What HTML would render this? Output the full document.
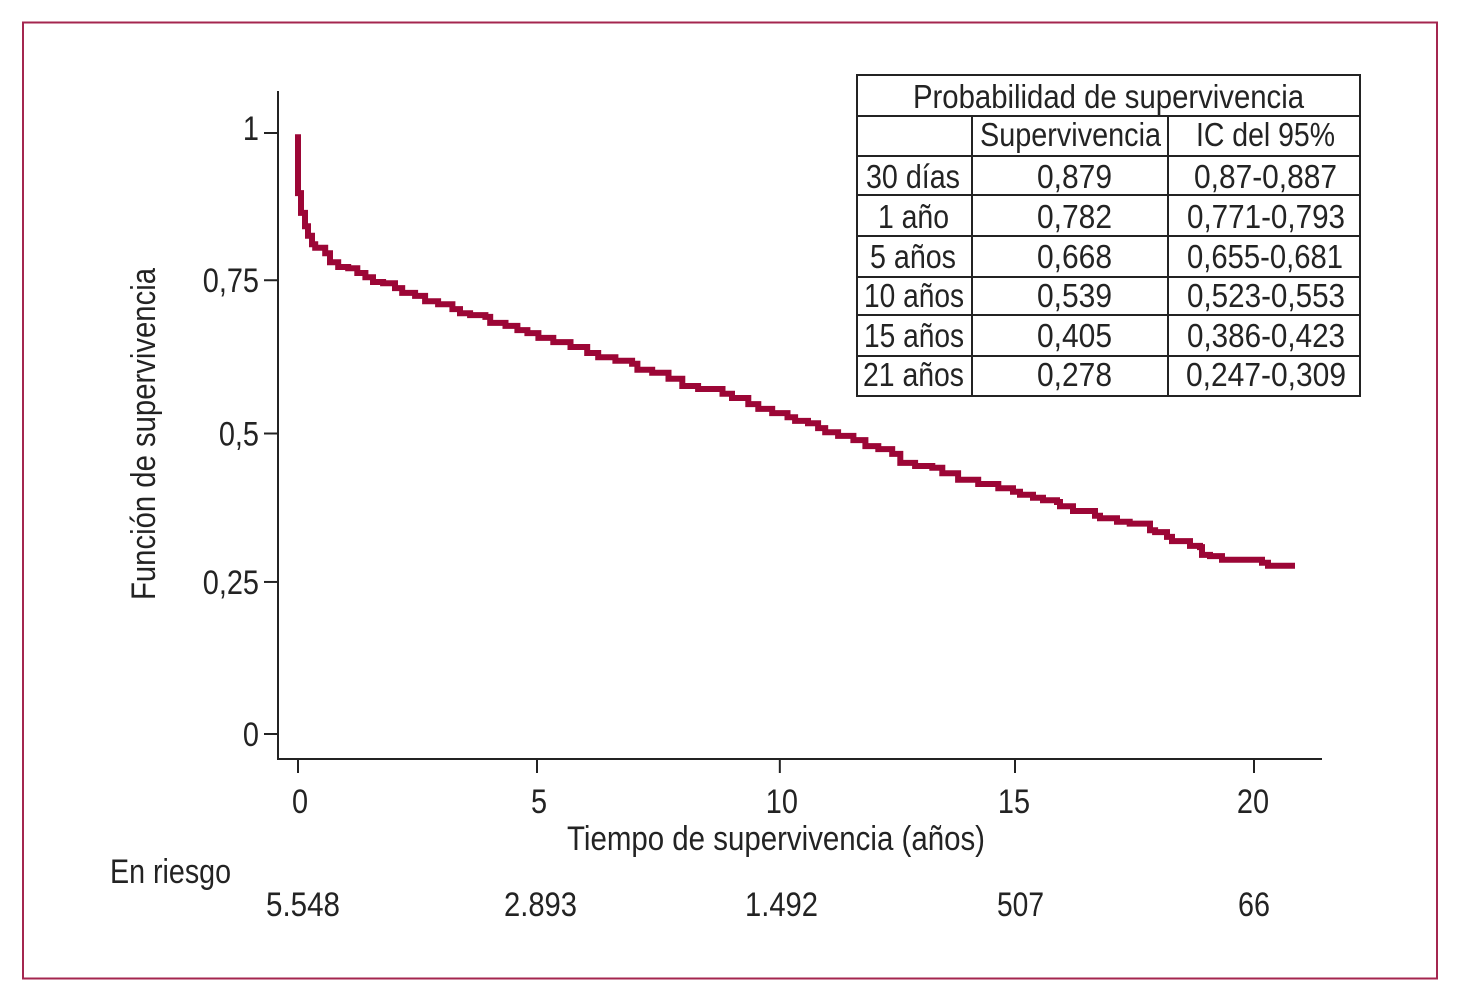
<!DOCTYPE html>
<html lang="es">
<head>
<meta charset="utf-8">
<title>Función de supervivencia</title>
<style>
html,body{margin:0;padding:0;background:#fff;}
svg{display:block;}
text{font-family:"Liberation Sans Narrow","Liberation Sans",sans-serif;fill:#232323;font-size:34px;}
.t text{font-size:33px;}
</style>
</head>
<body>
<svg id="chart" xmlns="http://www.w3.org/2000/svg" width="1462" height="1008" viewBox="0 0 1462 1008">
  <rect x="23" y="22.5" width="1414" height="956" fill="none" stroke="#a4264f" stroke-width="2"/>
  <g id="axes"></g>
  <path id="curve" fill="none" stroke="#9c0636" stroke-width="6" stroke-linejoin="miter"/>

  <text transform="translate(155,600) rotate(-90)" textLength="332" lengthAdjust="spacingAndGlyphs">Función de supervivencia</text>
  <text x="567" y="850" textLength="418" lengthAdjust="spacingAndGlyphs">Tiempo de supervivencia (años)</text>

  <text x="110" y="883" textLength="121" lengthAdjust="spacingAndGlyphs">En riesgo</text>
  <text x="266" y="916" textLength="74" lengthAdjust="spacingAndGlyphs">5.548</text>
  <text x="504" y="916" textLength="73" lengthAdjust="spacingAndGlyphs">2.893</text>
  <text x="745" y="916" textLength="73" lengthAdjust="spacingAndGlyphs">1.492</text>
  <text x="997" y="916" textLength="47" lengthAdjust="spacingAndGlyphs">507</text>
  <text x="1238" y="916" textLength="32" lengthAdjust="spacingAndGlyphs">66</text>

  <g class="t">
    <rect x="857" y="75" width="503" height="321" fill="#fff" stroke="#232323" stroke-width="2"/>
    <g stroke="#232323" stroke-width="2">
      <line x1="857" x2="1360" y1="116" y2="116"/>
      <line x1="857" x2="1360" y1="156" y2="156"/>
      <line x1="857" x2="1360" y1="195" y2="195"/>
      <line x1="857" x2="1360" y1="236" y2="236"/>
      <line x1="857" x2="1360" y1="277" y2="277"/>
      <line x1="857" x2="1360" y1="315" y2="315"/>
      <line x1="857" x2="1360" y1="356" y2="356"/>
      <line x1="972" x2="972" y1="116" y2="396"/>
      <line x1="1168" x2="1168" y1="116" y2="396"/>
    </g>
    <text x="913" y="108" textLength="391" lengthAdjust="spacingAndGlyphs">Probabilidad de supervivencia</text>
    <text x="980" y="146" textLength="181" lengthAdjust="spacingAndGlyphs">Supervivencia</text>
    <text x="1196" y="146" textLength="139" lengthAdjust="spacingAndGlyphs">IC del 95%</text>

    <text x="866" y="188" textLength="94" lengthAdjust="spacingAndGlyphs">30 días</text>
    <text x="1037" y="188" textLength="75" lengthAdjust="spacingAndGlyphs">0,879</text>
    <text x="1194" y="188" textLength="143" lengthAdjust="spacingAndGlyphs">0,87-0,887</text>

    <text x="878" y="228" textLength="71" lengthAdjust="spacingAndGlyphs">1 año</text>
    <text x="1037" y="228" textLength="75" lengthAdjust="spacingAndGlyphs">0,782</text>
    <text x="1187" y="228" textLength="158" lengthAdjust="spacingAndGlyphs">0,771-0,793</text>

    <text x="870" y="268" textLength="86" lengthAdjust="spacingAndGlyphs">5 años</text>
    <text x="1037" y="268" textLength="75" lengthAdjust="spacingAndGlyphs">0,668</text>
    <text x="1187" y="268" textLength="156" lengthAdjust="spacingAndGlyphs">0,655-0,681</text>

    <text x="864" y="307" textLength="100" lengthAdjust="spacingAndGlyphs">10 años</text>
    <text x="1037" y="307" textLength="75" lengthAdjust="spacingAndGlyphs">0,539</text>
    <text x="1187" y="307" textLength="158" lengthAdjust="spacingAndGlyphs">0,523-0,553</text>

    <text x="864" y="347" textLength="100" lengthAdjust="spacingAndGlyphs">15 años</text>
    <text x="1037" y="347" textLength="75" lengthAdjust="spacingAndGlyphs">0,405</text>
    <text x="1187" y="347" textLength="158" lengthAdjust="spacingAndGlyphs">0,386-0,423</text>

    <text x="863" y="386" textLength="101" lengthAdjust="spacingAndGlyphs">21 años</text>
    <text x="1037" y="386" textLength="75" lengthAdjust="spacingAndGlyphs">0,278</text>
    <text x="1186" y="386" textLength="160" lengthAdjust="spacingAndGlyphs">0,247-0,309</text>
  </g>
</svg>
<script>
const timeYears = [0,0,0.063,0.146,0.209,0.293,0.36,0.57,0.67,0.84,1.05,1.24,1.41,1.57,1.78,2.03,2.18,2.45,2.66,2.93,3.23,3.39,3.60,3.92,4.02,4.34,4.59,4.80,5.03,5.34,5.70,6.05,6.28,6.64,6.99,7.10,7.41,7.75,8.04,8.37,8.88,9.08,9.42,9.63,9.92,10.24,10.40,10.67,10.88,11.03,11.30,11.62,11.87,12.14,12.43,12.60,12.91,13.27,13.48,13.81,14.23,14.65,14.958,15.105,15.377,15.586,15.879,15.941,16.213,16.674,16.778,17.134,17.400,17.824,17.930,18.180,18.285,18.661,18.870,18.912,19.080,19.330,20.167,20.293];
const survival = [0.998,0.900,0.867,0.845,0.829,0.815,0.809,0.800,0.785,0.777,0.775,0.767,0.760,0.752,0.750,0.742,0.734,0.729,0.720,0.715,0.707,0.700,0.697,0.694,0.684,0.679,0.672,0.667,0.659,0.652,0.644,0.634,0.627,0.621,0.616,0.606,0.601,0.591,0.579,0.574,0.566,0.559,0.549,0.541,0.534,0.527,0.521,0.517,0.509,0.502,0.496,0.489,0.479,0.474,0.466,0.451,0.446,0.443,0.434,0.423,0.416,0.409,0.403,0.398,0.393,0.389,0.386,0.379,0.371,0.363,0.359,0.353,0.350,0.339,0.336,0.328,0.321,0.313,0.311,0.298,0.296,0.290,0.285,0.280];
const followUpEnd = 20.858;
const xTickValues = [0,5,10.08,15,20];
const xTickLabels = ["0","5","10","15","20"];
const yTickValues = [0,0.253,0.5,0.755,1];
const yTickLabels = ["0","0,25","0,5","0,75","1"];

const xScale = function (t) { return 298 + t * 47.8; };
const yScale = function (s) { return 734 - s * 601; };
const NS = 'http://www.w3.org/2000/svg';
const axes = document.getElementById('axes');

function make(tag, attrs, parent) {
  const el = document.createElementNS(NS, tag);
  for (const k in attrs) el.setAttribute(k, attrs[k]);
  parent.appendChild(el);
  return el;
}
const lineStyle = { stroke: '#232323', 'stroke-width': 2 };

const yAxisLine = make('line', Object.assign({ x1: 278, x2: 278, y1: 91, y2: 760 }, lineStyle), axes);



const xAxisLine = make('line', Object.assign({ x1: 277, x2: 1322, y1: 759, y2: 759 }, lineStyle), axes);



yTickValues.forEach(function (v, i) {
  const y = yScale(v);
  const tick = make('line', Object.assign({ x1: 264, x2: 278, y1: y, y2: y }, lineStyle), axes);
  
  
  const baseline = y + (v === 1 ? 7 : 12);
  const label = make('text', { transform: 'translate(259,' + baseline + ') scale(0.85,1)', 'text-anchor': 'end' }, axes);
  label.textContent = yTickLabels[i];
  
  
});

xTickValues.forEach(function (v, i) {
  const x = xScale(v);
  const tick = make('line', Object.assign({ x1: x, x2: x, y1: 759, y2: 773 }, lineStyle), axes);
  
  
  const labelX = x + (v < 12 ? 2 : -1);
  const label = make('text', { transform: 'translate(' + labelX + ',813) scale(0.85,1)', 'text-anchor': 'middle' }, axes);
  label.textContent = xTickLabels[i];
  
  
});

let d = 'M' + xScale(timeYears[0]) + ' ' + yScale(survival[0]);
for (let i = 1; i < timeYears.length; i++) {
  d += 'H' + xScale(timeYears[i]).toFixed(1) + 'V' + yScale(survival[i]).toFixed(1);
}
d += 'H' + xScale(followUpEnd).toFixed(1);
document.getElementById('curve').setAttribute('d', d);
</script>
</body>
</html>
